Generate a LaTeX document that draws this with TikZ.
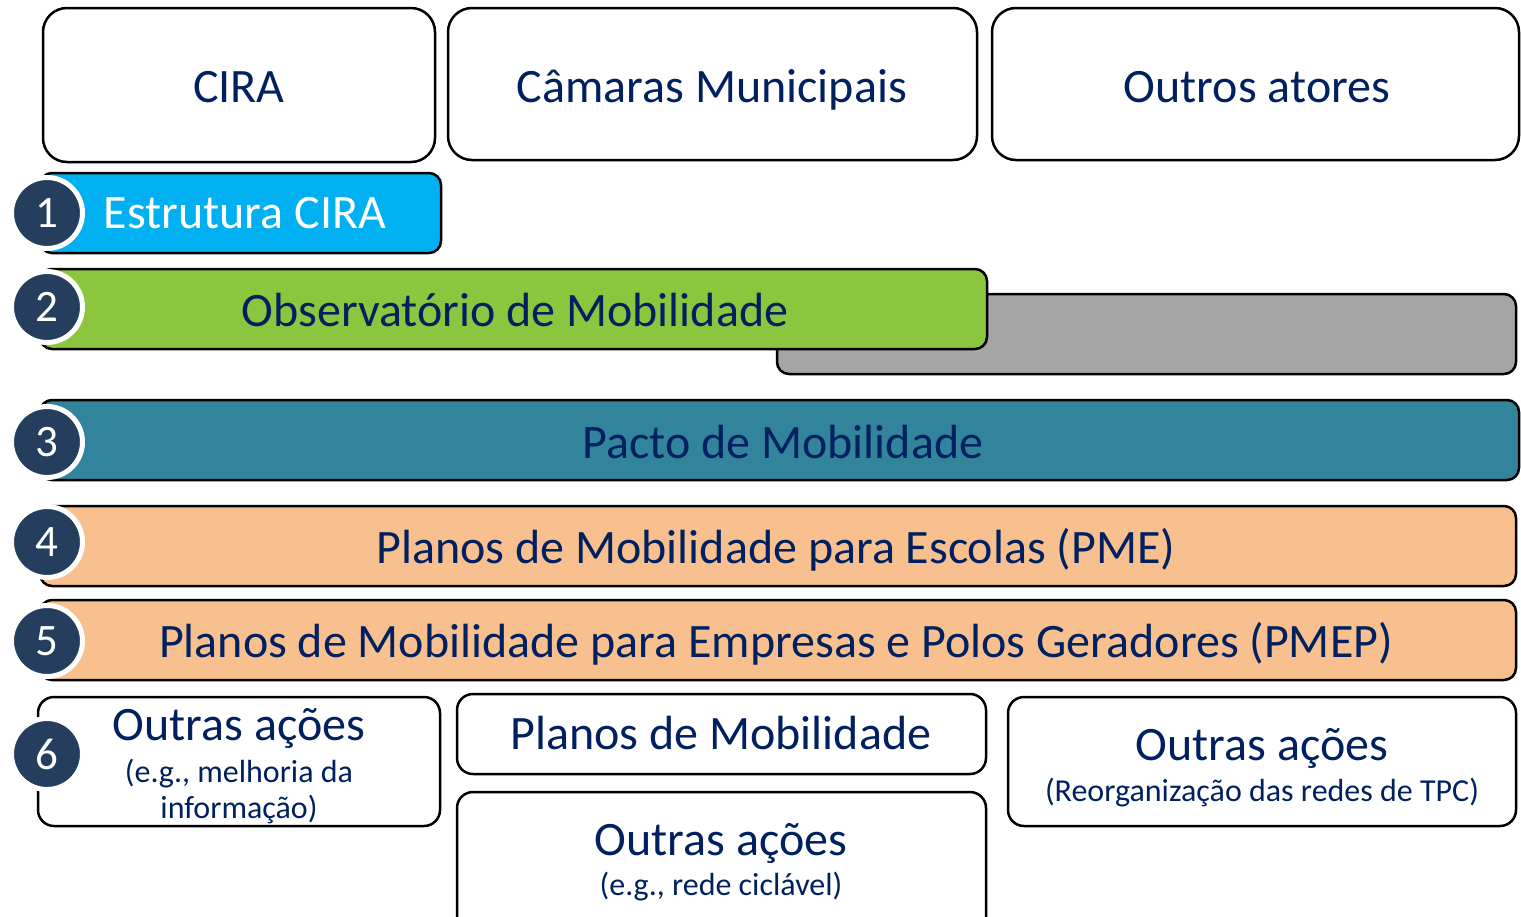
\documentclass[tikz,border=0pt]{standalone}
\usepackage{fontspec}
\setmainfont{Carlito}
\definecolor{navy}{HTML}{002060}
\definecolor{numblue}{HTML}{253E5E}
\definecolor{cyanbar}{HTML}{00B0F0}
\definecolor{greenbar}{HTML}{8CC63F}
\definecolor{graybar}{HTML}{A5A5A5}
\definecolor{tealbar}{HTML}{31849B}
\definecolor{peachbar}{HTML}{F9C08F}
\tikzset{
  topbox/.style={draw=black, line width=2.5pt, rounded corners=24pt, fill=white},
  lowbox/.style={draw=black, line width=2.5pt, rounded corners=16pt, fill=white},
  barbox/.style={draw=black, line width=2.5pt, rounded corners=12pt},
  numc/.style={circle, fill=numblue, draw=white, line width=5pt, minimum size=71pt, inner sep=0pt, text=white, font=\fontsize{45}{45}\selectfont},
  big/.style={anchor=base, text=navy, inner sep=0pt, font=\fontsize{48}{48}\selectfont},
  small/.style={anchor=base, text=navy, inner sep=0pt, font=\fontsize{32}{32}\selectfont}
}
\begin{document}
\begin{tikzpicture}[x=1pt,y=-1pt]
\useasboundingbox (0,0) rectangle (1521,916);
% top boxes
\draw[topbox] (43,8) rectangle (435,162);
\node[big] (tcira) at (239,102) {CIRA};
\draw[topbox] (448,8) rectangle (977,160);
\node[big] (tcam) at (712,102) {Câmaras Municipais};
\draw[topbox] (992,8) rectangle (1519,160);
\node[big] (tout) at (1257,102) {Outros atores};
% row 1
\draw[barbox, fill=cyanbar] (40,173) rectangle (441,253);
\node[big, text=white] (t1) at (245,228) {Estrutura CIRA};
% row 2
\draw[barbox, fill=graybar] (777,294) rectangle (1516,374);
\draw[barbox, fill=greenbar] (40,269) rectangle (987,349);
\node[big] (t2) at (515,326) {Observatório de Mobilidade};
% row 3
\draw[barbox, fill=tealbar] (40,400) rectangle (1519,480);
\node[big] (t3) at (783,458) {Pacto de Mobilidade};
% row 4
\draw[barbox, fill=peachbar] (40,506) rectangle (1516,586);
\node[big] (t4) at (776,563) {Planos de Mobilidade para Escolas (PME)};
% row 5
\draw[barbox, fill=peachbar] (40,600) rectangle (1516,680);
\node[big] (t5) at (776,657) {Planos de Mobilidade para Empresas e Polos Geradores (PMEP)};
% row 6
\draw[lowbox] (38,697) rectangle (440,826);
\node[big] (t6a) at (239,740) {Outras ações};
\node[small] (t6b) at (239,782) {(e.g., melhoria da};
\node[small] (t6c) at (239,818) {informação)};
\draw[lowbox] (457,694) rectangle (986,774);
\node[big] (tpm) at (721,749) {Planos de Mobilidade};
\draw[lowbox] (457,792) rectangle (986,940);
\node[big] (tca) at (721,855) {Outras ações};
\node[small] (tcb) at (721,895) {(e.g., rede ciclável)};
\draw[lowbox] (1008,697) rectangle (1516,826);
\node[big] (tta) at (1262,760) {Outras ações};
\node[small] (ttb) at (1262,801) {(Reorganização das redes de TPC)};
% number circles
\node[numc] (n1) at (47,213) {1};
\node[numc] (n2) at (47,307) {2};
\node[numc] (n3) at (47,442) {3};
\node[numc] (n4) at (47,542) {4};
\node[numc] (n5) at (47,641) {5};
\node[numc] (n6) at (47,754) {6};
\end{tikzpicture}
\end{document}
